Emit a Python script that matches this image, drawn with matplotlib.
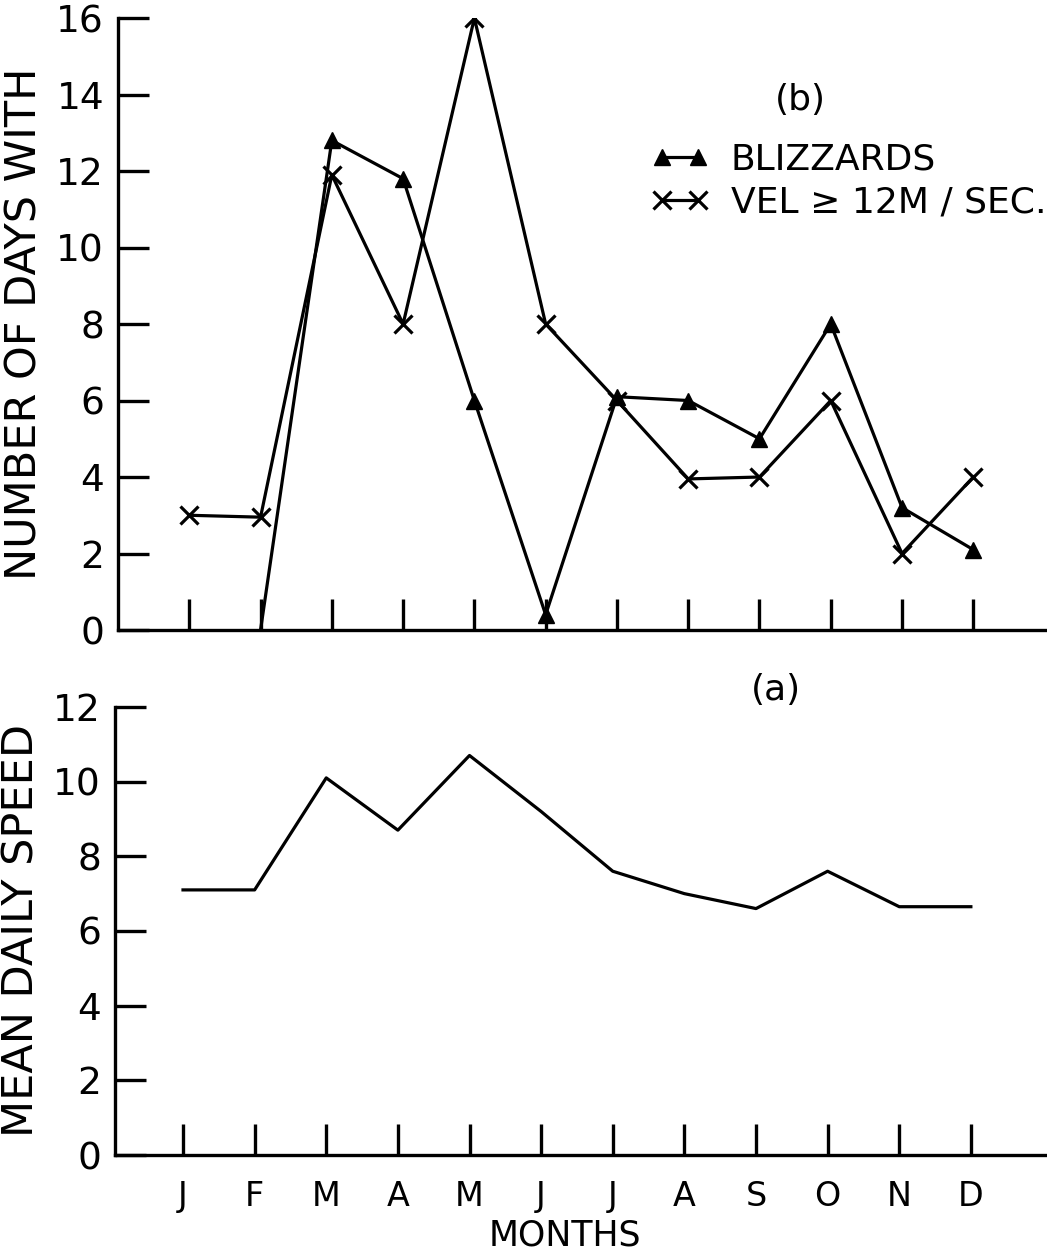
import matplotlib
matplotlib.use("Agg")
import matplotlib.pyplot as plt

plt.rcParams['font.family'] = ['DejaVu Sans']

months = ['J', 'F', 'M', 'A', 'M', 'J', 'J', 'A', 'S', 'O', 'N', 'D']
pos = list(range(1, 13))

# days with blizzards (none recorded for January)
blizzards = [None, 0.0, 12.8, 11.8, 6.0, 0.4, 6.1, 6.0, 5.0, 8.0, 3.2, 2.1]
# days with wind velocity >= 12 m/sec
vel12 = [3.0, 2.95, 11.9, 8.0, 16.0, 8.0, 6.0, 3.95, 4.0, 6.0, 2.0, 4.0]
# mean daily wind speed
mean_speed = [7.1, 7.1, 10.1, 8.7, 10.7, 9.2, 7.6, 7.0, 6.6, 7.6, 6.65, 6.65]

LW = 2.3
FS = 26

fig = plt.figure(figsize=(10.47, 12.53), dpi=100)
ax1 = fig.add_axes([0.1127, 0.4972, 0.885, 0.4884])
ax2 = fig.add_axes([0.1098, 0.0782, 0.890, 0.3576])

for ax in (ax1, ax2):
    ax.spines['top'].set_visible(False)
    ax.spines['right'].set_visible(False)
    for s in ('left', 'bottom'):
        ax.spines[s].set_linewidth(2.4)
    ax.tick_params(axis='both', direction='in', length=22, width=2.4,
                   labelsize=FS + 1, pad=10)
    ax.set_xticks(pos)

# top panel (b)
bx = [p for p, v in zip(pos, blizzards) if v is not None]
by = [v for v in blizzards if v is not None]
ax1.plot(bx, by, color='black', lw=LW, marker='^', ms=12,
         markevery=list(range(1, len(bx))), label='BLIZZARDS')
ax1.plot(pos, vel12, color='black', lw=LW, marker='x', ms=13, mew=2.3,
         label='VEL \u2265 12M / SEC.')
ax1.set_xlim(0, 13)
ax1.set_ylim(0, 16)
ax1.set_yticks(range(0, 17, 2))
ax1.set_xticklabels([])
ax1.set_ylabel('NUMBER OF DAYS WITH', fontsize=31, labelpad=8)
ax1.text(9.57, 13.85, '(b)', fontsize=FS, ha='center', va='center')
ax1.legend(loc='upper left', bbox_to_anchor=(0.56, 0.82), frameon=False,
           fontsize=FS, numpoints=2, handlelength=1.6, handletextpad=0.6,
           labelspacing=0.25, borderaxespad=0)

# bottom panel (a)
ax2.plot(pos, mean_speed, color='black', lw=LW)
ax2.set_xlim(0.05, 13.06)
ax2.set_ylim(0, 12)
ax2.set_yticks(range(0, 13, 2))
ax2.set_xticklabels(months, fontsize=24)
ax2.tick_params(axis='x', pad=18)
ax2.set_ylabel('MEAN DAILY SPEED', fontsize=31, labelpad=8)
ax2.set_xlabel('MONTHS', fontsize=25, va='center')
ax2.xaxis.set_label_coords(0.483, -0.179)
ax2.text(9.28, 12.45, '(a)', fontsize=FS, ha='center', va='center')

fig.savefig('out.png', dpi=100)
